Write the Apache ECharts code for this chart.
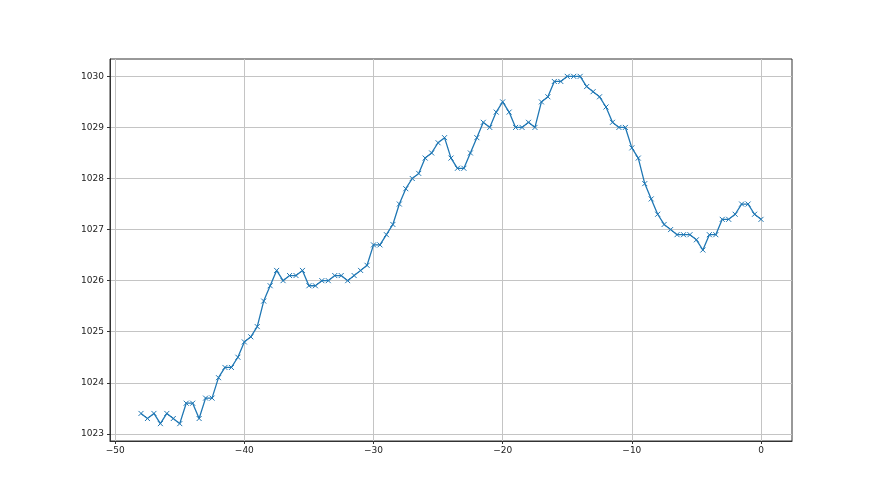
<!DOCTYPE html>
<html>
<head>
<meta charset="utf-8">
<script src="https://cdn.jsdelivr.net/npm/echarts@6/dist/echarts.min.js"></script>
<style>
  html, body { margin: 0; padding: 0; background: #fff; }
  #chart { width: 880px; height: 495px; }
</style>
</head>
<body>
<div id="chart"></div>
<script>
  // hours before now
  const hours = [
    -48, -47.5, -47, -46.5, -46, -45.5, -45, -44.5, -44, -43.5,
    -43, -42.5, -42, -41.5, -41, -40.5, -40, -39.5, -39, -38.5,
    -38, -37.5, -37, -36.5, -36, -35.5, -35, -34.5, -34, -33.5,
    -33, -32.5, -32, -31.5, -31, -30.5, -30, -29.5, -29, -28.5,
    -28, -27.5, -27, -26.5, -26, -25.5, -25, -24.5, -24, -23.5,
    -23, -22.5, -22, -21.5, -21, -20.5, -20, -19.5, -19, -18.5,
    -18, -17.5, -17, -16.5, -16, -15.5, -15, -14.5, -14, -13.5,
    -13, -12.5, -12, -11.5, -11, -10.5, -10, -9.5, -9, -8.5,
    -8, -7.5, -7, -6.5, -6, -5.5, -5, -4.5, -4, -3.5,
    -3, -2.5, -2, -1.5, -1, -0.5, 0
  ]
  // pressure, hPa
  const pressure = [
    1023.4, 1023.3, 1023.4, 1023.2, 1023.4, 1023.3, 1023.2, 1023.6, 1023.6, 1023.3,
    1023.7, 1023.7, 1024.1, 1024.3, 1024.3, 1024.5, 1024.8, 1024.9, 1025.1, 1025.6,
    1025.9, 1026.2, 1026.0, 1026.1, 1026.1, 1026.2, 1025.9, 1025.9, 1026.0, 1026.0,
    1026.1, 1026.1, 1026.0, 1026.1, 1026.2, 1026.3, 1026.7, 1026.7, 1026.9, 1027.1,
    1027.5, 1027.8, 1028.0, 1028.1, 1028.4, 1028.5, 1028.7, 1028.8, 1028.4, 1028.2,
    1028.2, 1028.5, 1028.8, 1029.1, 1029.0, 1029.3, 1029.5, 1029.3, 1029.0, 1029.0,
    1029.1, 1029.0, 1029.5, 1029.6, 1029.9, 1029.9, 1030.0, 1030.0, 1030.0, 1029.8,
    1029.7, 1029.6, 1029.4, 1029.1, 1029.0, 1029.0, 1028.6, 1028.4, 1027.9, 1027.6,
    1027.3, 1027.1, 1027.0, 1026.9, 1026.9, 1026.9, 1026.8, 1026.6, 1026.9, 1026.9,
    1027.2, 1027.2, 1027.3, 1027.5, 1027.5, 1027.3, 1027.2
  ]
  const xTicks = [-50, -40, -30, -20, -10, 0]
  const yTicks = [1023, 1024, 1025, 1026, 1027, 1028, 1029, 1030]

  const chart = echarts.init(document.getElementById('chart'))
  const labelStyle = {
    color: '#222',
    fontFamily: 'DejaVu Sans',
    fontSize: 9
  }
  const plain = v => String(v).replace('-', '\u2212')

  chart.setOption({
    animation: false,
    backgroundColor: '#fff',
    grid: {
      left: 110,
      right: 88,
      top: 59,
      bottom: 54,
      show: true,
      borderColor: '#333',
      borderWidth: 1
    },
    xAxis: {
      type: 'value',
      min: -50.4,
      max: 2.4,
      axisLine: { show: true, onZero: false, lineStyle: { color: '#333' } },
      axisTick: { show: true, inside: false, length: 3, customValues: xTicks, lineStyle: { color: '#333' } },
      axisLabel: Object.assign({ customValues: xTicks, margin: 5, formatter: plain }, labelStyle),
      splitLine: { show: true, lineStyle: { color: '#c4c4c4', width: 1 } }
    },
    yAxis: {
      type: 'value',
      min: 1022.86,
      max: 1030.34,
      axisLine: { show: true, onZero: false, lineStyle: { color: '#333' } },
      axisTick: { show: true, inside: false, length: 3, customValues: yTicks, lineStyle: { color: '#333' } },
      axisLabel: Object.assign({ customValues: yTicks, margin: 6, formatter: plain }, labelStyle),
      splitLine: { show: true, lineStyle: { color: '#c4c4c4', width: 1 } }
    },
    series: [{
      type: 'line',
      data: hours.map((h, i) => [h, pressure[i]]),
      symbol: 'path://M0,0L10,10M10,0L0,10',
      symbolSize: 5,
      showAllSymbol: true,
      lineStyle: { color: '#1f77b4', width: 1.3 },
      itemStyle: { color: '#1f77b4', borderColor: '#1f77b4', borderWidth: 1 }
    }]
  })
</script>
</body>
</html>
